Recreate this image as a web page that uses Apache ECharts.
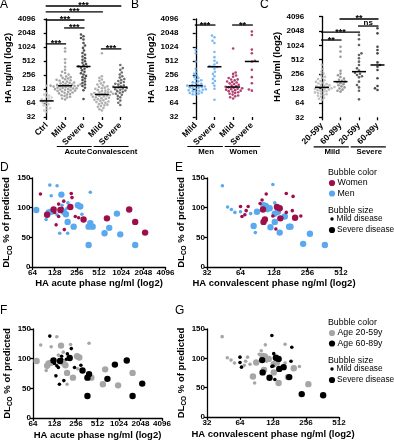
<!DOCTYPE html>
<html>
<head>
<meta charset="utf-8">
<script src="https://cdn.jsdelivr.net/npm/echarts@6/dist/echarts.min.js"></script>
<style>
html, body { margin: 0; padding: 0; background: #fff; }
#main { width: 394px; height: 440px; }
</style>
</head>
<body>
<div id="main"></div>
<script>
var FONT = 'Liberation Sans, Arial, Helvetica, sans-serif';

// ---- panel A: HA by group (ng/ml) ----
var catsA = ['Ctrl', 'Mild', 'Severe', 'Mild', 'Severe'];
var ctrlA = [150, 104, 97, 92, 87, 84, 80, 77, 74, 72, 70, 66, 63, 60, 57, 54, 50, 47, 44, 41];
var acuteMildA = [960, 820, 560, 470, 385, 330, 300, 282, 262, 250, 238, 230, 222, 215, 208, 202, 197, 192, 186, 181,
    177, 172, 168, 165, 162, 159, 157, 155, 153, 151, 150, 148, 146, 144, 142, 140, 137, 135, 133, 131,
    129, 127, 125, 123, 120, 118, 116, 113, 111, 108, 106, 103, 100, 97, 94, 91, 87, 84, 80, 76];
var acuteSevereA = [1900, 1750, 1600, 1480, 1250, 1100, 980, 860, 760, 700, 640, 590, 545, 505, 470, 440, 412, 395,
    385, 368, 350, 322, 300, 280, 262, 245, 230, 215, 200, 186, 172, 160, 148, 136, 120, 78];
var convMildA = [750, 240, 222, 205, 190, 178, 168, 160, 152, 146, 141, 137, 133, 129, 125, 121, 118, 115, 112, 109,
    107, 105, 103, 101, 99, 98, 97, 95, 93, 91, 89, 87, 85, 83, 81, 79, 77, 75, 73, 71, 69, 67, 65, 63, 61, 59,
    57, 55, 53, 50, 47, 44];
var convSevereA = [420, 360, 330, 290, 262, 240, 225, 210, 200, 190, 181, 173, 166, 159, 153, 147, 142, 138, 135,
    131, 127, 123, 119, 115, 111, 106, 101, 96, 91, 85, 79, 72, 65, 58];
var groupsA = [['Acute', 1, 2], ['Convalescent', 3, 4]];
var sigA = [[0, 4, 7800, '***'], [0, 3, 5800, '***'], [0, 2, 3900, '***'], [1, 2, 2630, '***'], [0, 1, 1195, '***'], [3, 4, 932, '***']];

// ---- panel B: acute HA by sex ----
var catsB = ['Mild', 'Severe', 'Mild', 'Severe'];
var menMildB = [880, 750, 500, 350, 300, 272, 252, 236, 222, 208, 197, 187, 179, 172, 166, 161, 157, 154, 151, 148,
    145, 142, 139, 136, 133, 129, 126, 123, 120, 117, 114, 111, 108, 105, 102, 99, 96];
var menSevereB = [1800, 1650, 1400, 1250, 800, 620, 520, 470, 430, 400, 390, 380, 350, 300, 270, 240, 210, 190, 170, 150, 130, 75];
var womenMildB = [950, 290, 270, 250, 235, 220, 206, 205, 196, 186, 180, 177, 169, 163, 157, 151, 147, 143, 139, 136,
    133, 130, 127, 124, 121, 118, 115, 112, 109, 105, 101, 97, 93, 89, 85, 80];
var womenSevereB = [2200, 1850, 900, 750, 520, 500, 330, 230, 170, 125, 118];
var groupsB = [['Men', 0, 1], ['Women', 2, 3]];
var sigB = [[0, 1, 3040, '***'], [2, 3, 3040, '**']];

// ---- panel C: acute HA by age ----
var catsC = ['20-59y', '60-89y', '20-59y', '60-89y'];
var youngMildC = [400, 330, 290, 262, 242, 226, 213, 201, 191, 183, 176, 169, 163, 158, 153, 149, 146, 143, 141, 138,
    136, 134, 132, 130, 128, 126, 124, 121, 118, 115, 112, 109, 106, 103, 100, 97, 94, 90, 86, 82, 78, 74];
var oldMildC = [950, 760, 590, 300, 262, 242, 222, 206, 195, 186, 178, 172, 165, 158, 150, 142, 135, 128, 121, 115, 110];
var youngSevereC = [1690, 1370, 1040, 695, 643, 548, 466, 397, 338, 302, 274, 260, 245, 230, 219, 178, 151, 135, 115, 76];
var oldSevereC = [2320, 1820, 955, 815, 695, 450, 397, 365, 311, 209, 144, 129, 119];
var groupsC = [['Mild', 0, 1], ['Severe', 2, 3]];
var sigC = [[1, 3, 3630, '**'], [2, 3, 2590, 'ns'], [0, 2, 1940, '***'], [0, 1, 1320, '**']];

// ---- bubbles: [HA ng/ml, DLCO %, sex W/M, age Y(20-59)/O(60-89), severe 0/1] ----
var acuteRows = [
    [110, 138, 'M', 'O', 0], [138, 137, 'M', 'Y', 0], [82, 123, 'W', 'Y', 0], [115, 120, 'M', 'Y', 0],
    [158, 122, 'M', 'Y', 1], [215, 124, 'W', 'Y', 0], [220, 117, 'W', 'O', 0], [390, 126, 'M', 'Y', 0],
    [170, 111, 'W', 'Y', 0], [145, 106, 'W', 'Y', 0], [161, 104, 'M', 'O', 0], [194, 108, 'M', 'O', 0],
    [72, 96, 'M', 'Y', 1], [98, 80, 'M', 'Y', 0], [101, 88, 'W', 'Y', 1], [106, 92, 'M', 'Y', 1],
    [115, 93, 'M', 'Y', 1], [124, 97, 'W', 'O', 1], [128, 92, 'W', 'O', 0], [138, 88, 'M', 'O', 0],
    [145, 85, 'W', 'O', 0], [153, 96, 'W', 'O', 1], [161, 99, 'W', 'O', 0], [170, 93, 'M', 'Y', 1],
    [182, 89, 'M', 'Y', 1], [188, 99, 'M', 'O', 0], [209, 101, 'W', 'O', 1], [265, 104, 'M', 'Y', 1],
    [285, 102, 'M', 'Y', 1], [300, 89, 'M', 'O', 0], [271, 83, 'W', 'Y', 0], [316, 80, 'W', 'O', 1],
    [244, 85, 'W', 'O', 0], [192, 76, 'M', 'Y', 1], [134, 71, 'W', 'O', 0], [173, 63, 'W', 'O', 0],
    [150, 57, 'M', 'O', 0], [192, 57, 'M', 'Y', 0], [232, 68, 'M', 'Y', 1], [370, 68, 'M', 'O', 1],
    [390, 74, 'M', 'O', 1], [420, 68, 'M', 'Y', 1], [656, 82, 'W', 'Y', 1], [897, 90, 'M', 'O', 1],
    [1316, 97, 'W', 'O', 1], [1587, 76, 'W', 'Y', 1], [705, 66, 'M', 'O', 1], [609, 57, 'M', 'Y', 1],
    [995, 55, 'M', 'Y', 1], [2165, 58, 'W', 'O', 1], [370, 37, 'M', 'O', 1], [1587, 37, 'M', 'O', 1]
];
var convRows = [
    [44, 137, 'M', 'Y', 0], [125, 139, 'M', 'O', 0], [109, 123, 'W', 'Y', 0], [165, 124, 'W', 'Y', 0],
    [190, 119, 'W', 'O', 0], [49, 101, 'M', 'Y', 0], [53, 97, 'M', 'Y', 0], [57, 92, 'M', 'Y', 0],
    [64, 93, 'M', 'O', 0], [64, 102, 'W', 'O', 0], [75, 102, 'W', 'Y', 0], [72, 95, 'W', 'Y', 0],
    [66, 85, 'W', 'O', 0], [70, 88, 'W', 'Y', 0], [79, 90, 'M', 'Y', 0], [90, 93, 'M', 'Y', 1],
    [96, 107, 'W', 'Y', 0], [100, 113, 'W', 'Y', 0], [102, 97, 'W', 'O', 1], [103, 104, 'M', 'Y', 1],
    [108, 103, 'M', 'Y', 1], [117, 99, 'M', 'Y', 1], [103, 76, 'W', 'O', 1], [106, 80, 'W', 'Y', 1],
    [130, 108, 'M', 'O', 0], [136, 101, 'W', 'O', 1], [144, 99, 'W', 'O', 1], [139, 93, 'M', 'Y', 1],
    [130, 90, 'M', 'Y', 1], [146, 82, 'W', 'O', 1], [125, 86, 'W', 'O', 0], [160, 85, 'M', 'O', 1],
    [165, 92, 'W', 'Y', 0], [187, 95, 'W', 'O', 0], [198, 83, 'W', 'Y', 1], [223, 86, 'W', 'Y', 0],
    [175, 68, 'M', 'Y', 1], [180, 68, 'M', 'O', 1], [130, 76, 'M', 'Y', 1], [119, 67, 'M', 'O', 1],
    [84, 69, 'M', 'Y', 1], [87, 58, 'M', 'Y', 0], [144, 58, 'M', 'Y', 1], [269, 56, 'M', 'Y', 1],
    [234, 39, 'M', 'O', 1], [367, 37, 'M', 'O', 1], [112, 95, 'M', 'Y', 0], [128, 87, 'M', 'O', 0],
    [133, 64, 'W', 'O', 0]
];

var BLUE = '#5aa9f0', RED = '#9e0e4b', GREY = '#a6a6a6', BLACK = '#000000';

// ---------- helpers ----------
function median(a) {
    var s = a.slice().sort(function (x, y) { return x - y; }), n = s.length;
    return n % 2 ? s[(n - 1) / 2] : (s[n / 2 - 1] + s[n / 2]) / 2;
}

// simple beeswarm: spread equal-ish values sideways so dots do not overlap
function swarm(vals, idx, pxLog, pxCat, d) {
    var sorted = vals.slice().sort(function (a, b) { return a - b; });
    var placed = [], out = [];
    sorted.forEach(function (v, n) {
        var y = Math.log2(v) * pxLog, x = 0;
        for (var k = 0; k < 80; k++) {
            var s = (n % 2 ? -1 : 1);
            var cand = k === 0 ? [0] : [s * k * 0.5, -s * k * 0.5];
            var hit = null;
            for (var c = 0; c < cand.length; c++) {
                var ok = placed.every(function (p) {
                    var dx = p[0] - cand[c], dy = p[1] - y;
                    return dx * dx + dy * dy >= d * d;
                });
                if (ok) { hit = cand[c]; break; }
            }
            if (hit !== null) { x = hit; break; }
        }
        placed.push([x, y]);
        out.push([idx + x / pxCat, v]);
    });
    return out;
}

function plainNum(v) { return String(Math.round(v)); }
function lineStyle() { return { color: '#000', width: 1.3 }; }
function labelStyle(size) {
    return { color: '#000', fontWeight: 'bold', fontSize: size || 8, fontFamily: FONT, margin: 2, formatter: plainNum };
}
function nameStyle() {
    return { color: '#000', fontWeight: 'bold', fontSize: 9.5, fontFamily: FONT };
}

function logY(gi, offset, gap) {
    return {
        gridIndex: gi, type: 'log', logBase: 2, min: 32, max: 4096, offset: offset,
        axisLine: { show: true, lineStyle: lineStyle() },
        axisTick: { show: true, length: 3, lineStyle: lineStyle() },
        axisLabel: labelStyle(8), splitLine: { show: false },
        name: 'HA ng/ml (log2)', nameLocation: 'middle', nameGap: gap, nameTextStyle: nameStyle()
    };
}
function catX(gi, cats) {
    var lab = labelStyle(8.5);
    delete lab.formatter;
    lab.rotate = 45; lab.interval = 0; lab.margin = 7;
    return {
        gridIndex: gi, type: 'category', data: cats,
        axisLine: { show: false },
        axisTick: { show: true, alignWithLabel: true, length: 3, lineStyle: lineStyle() },
        axisLabel: lab, splitLine: { show: false }
    };
}
function valX(gi, n) {
    return { gridIndex: gi, type: 'value', min: -0.5, max: n - 0.5, show: false };
}
function logX(gi, min, max, name, gap) {
    return {
        gridIndex: gi, type: 'log', logBase: 2, min: min, max: max,
        axisLine: { show: true, lineStyle: lineStyle() },
        axisTick: { show: true, length: 3, lineStyle: lineStyle() },
        axisLabel: labelStyle(8), splitLine: { show: false },
        name: name, nameLocation: 'middle', nameGap: gap, nameTextStyle: nameStyle()
    };
}
function dlcoY(gi) {
    var ns = nameStyle();
    ns.lineHeight = 13;
    ns.rich = { s: { color: '#000', fontWeight: 'bold', fontSize: 6.5, fontFamily: FONT, lineHeight: 7, verticalAlign: 'bottom' } };
    return {
        gridIndex: gi, type: 'value', min: 0, max: 150, interval: 50,
        axisLine: { show: true, lineStyle: lineStyle() },
        axisTick: { show: true, length: 3, lineStyle: lineStyle() },
        axisLabel: labelStyle(8), splitLine: { show: false },
        name: 'DL{s|CO} % of predicted', nameLocation: 'middle', nameGap: 15, nameTextStyle: ns
    };
}

function dotSeries(xi, yi, groups, colors, pxLog, pxCat) {
    var list = groups.map(function (vals, i) {
        return {
            type: 'scatter', xAxisIndex: xi, yAxisIndex: yi, symbolSize: 2.6, silent: true,
            itemStyle: { color: colors[i] }, data: swarm(vals, i, pxLog, pxCat, 2.8)
        };
    });
    list.push({
        type: 'custom', xAxisIndex: xi, yAxisIndex: yi, z: 5, silent: true,
        data: groups.map(function (v, i) { return [i, median(v)]; }),
        renderItem: function (params, api) {
            var p = api.coord([api.value(0), api.value(1)]);
            return { type: 'line', shape: { x1: p[0] - 7, y1: p[1], x2: p[0] + 7, y2: p[1] },
                style: { stroke: '#000', lineWidth: 1.5 } };
        }
    });
    return list;
}

function sigSeries(xi, yi, sig) {
    return {
        type: 'custom', xAxisIndex: xi, yAxisIndex: yi, silent: true, encode: { x: [0, 1], y: 2 },
        data: sig.map(function (s) { return [s[0], s[1], s[2]]; }),
        renderItem: function (params, api) {
            var s = sig[params.dataIndex];
            var a = api.coord([s[0], s[2]]), b = api.coord([s[1], s[2]]);
            var star = s[3].indexOf('*') >= 0;
            return { type: 'group', children: [
                { type: 'line', shape: { x1: a[0] - 1, y1: a[1], x2: b[0] + 1, y2: b[1] },
                    style: { stroke: '#000', lineWidth: 1.3 } },
                { type: 'text', style: { text: s[3], x: (a[0] + b[0]) / 2, y: a[1] + (star ? 4.5 : 0.5),
                    align: 'center', verticalAlign: 'bottom', fontSize: star ? 9 : 8, fontWeight: 'bold',
                    fontFamily: FONT, fill: '#000' } }
            ] };
        }
    };
}

function groupSeries(xi, yi, groups) {
    return {
        type: 'custom', xAxisIndex: xi, yAxisIndex: yi, silent: true, encode: { x: [0, 1], y: 2 },
        data: groups.map(function (g) { return [g[1], g[2], 64]; }),
        renderItem: function (params, api) {
            var g = groups[params.dataIndex];
            var cs = params.coordSys;
            var a = api.coord([g[1] - 0.45, 64])[0], b = api.coord([g[2] + 0.45, 64])[0];
            var y = cs.y + cs.height + 29.5;
            return { type: 'group', children: [
                { type: 'line', shape: { x1: a, y1: y, x2: b, y2: y }, style: { stroke: '#000', lineWidth: 1.2 } },
                { type: 'text', style: { text: g[0], x: (a + b) / 2 + 1, y: y + 1.5, align: 'center', verticalAlign: 'top',
                    fontSize: 7.8, fontWeight: 'bold', fontFamily: FONT, fill: '#000' } }
            ] };
        }
    };
}

function bubbles(rows, xi, yi, key, value, color) {
    return {
        type: 'scatter', xAxisIndex: xi, yAxisIndex: yi, silent: true,
        data: rows.filter(function (r) { return r[key] === value; }).map(function (r) { return [r[0], r[1], r[4]]; }),
        symbolSize: function (v) { return v[2] ? 6.4 : 3.6; },
        itemStyle: { color: color, opacity: 1 }
    };
}

function txt(x, y, s, size, weight, align) {
    return { type: 'text', silent: true, style: { text: s, x: x, y: y, align: align || 'left', verticalAlign: 'middle',
        fontSize: size, fontWeight: weight || 'normal', fontFamily: FONT, fill: '#000' } };
}
function dot(x, y, r, color) {
    return { type: 'circle', silent: true, shape: { cx: x, cy: y, r: r }, style: { fill: color } };
}
function bubbleLegend(x, y, items) {
    var els = [txt(x, y, 'Bubble color', 8.8)];
    items.forEach(function (it, i) {
        els.push(dot(x + 4, y + 10 + i * 10.5, 3.1, it[1]));
        els.push(txt(x + 9.5, y + 10 + i * 10.5, it[0], 8.8));
    });
    els.push(txt(x, y + 38, 'Bubble size', 8.8));
    els.push(dot(x + 4, y + 46, 1.7, '#000'));
    els.push(txt(x + 8.5, y + 46, 'Mild disease', 8.3));
    els.push(dot(x + 4, y + 57, 3.1, '#000'));
    els.push(txt(x + 9, y + 57, 'Severe disease', 8.3));
    return els;
}

var chart = echarts.init(document.getElementById('main'));

var series = [];
series = series.concat(dotSeries(1, 0, [ctrlA, acuteMildA, acuteSevereA, convMildA, convSevereA],
    ['#c4c4c4', '#8f8f8f', '#262626', '#9a9a9a', '#4a4a4a'], 14.05, 18.4));
series.push(sigSeries(1, 0, sigA), groupSeries(1, 0, groupsA));
series = series.concat(dotSeries(3, 1, [menMildB, menSevereB, womenMildB, womenSevereB],
    [BLUE, BLUE, RED, RED], 14.05, 18.7));
series.push(sigSeries(3, 1, sigB), groupSeries(3, 1, groupsB));
series = series.concat(dotSeries(5, 2, [youngMildC, oldMildC, youngSevereC, oldSevereC],
    ['#b0b0b0', '#808080', '#3a3a3a', '#1a1a1a'], 14.4, 18.5));
series.push(sigSeries(5, 2, sigC), groupSeries(5, 2, groupsC));
// D / E by sex, F / G by age
series.push(bubbles(acuteRows, 6, 3, 2, 'M', BLUE), bubbles(acuteRows, 6, 3, 2, 'W', RED));
series.push(bubbles(convRows, 7, 4, 2, 'M', BLUE), bubbles(convRows, 7, 4, 2, 'W', RED));
series.push(bubbles(acuteRows, 8, 5, 3, 'Y', GREY), bubbles(acuteRows, 8, 5, 3, 'O', BLACK));
series.push(bubbles(convRows, 9, 6, 3, 'Y', GREY), bubbles(convRows, 9, 6, 3, 'O', BLACK));

var option = {
    animation: false,
    textStyle: { fontFamily: FONT },
    grid: [
        { left: 37.5, top: 19, width: 92, height: 98 },
        { left: 186.4, top: 19, width: 74.8, height: 98 },
        { left: 312.75, top: 16.5, width: 74, height: 100.8 },
        { left: 32.5, top: 178, width: 133, height: 89 },
        { left: 207, top: 178, width: 134, height: 89 },
        { left: 33, top: 329, width: 129, height: 89 },
        { left: 207, top: 329, width: 132, height: 88 }
    ].map(function (g) { g.outerBoundsMode = 'none'; g.containLabel = false; return g; }),
    xAxis: [
        catX(0, catsA), valX(0, 5),
        catX(1, catsB), valX(1, 4),
        catX(2, catsC), valX(2, 4),
        logX(3, 64, 4096, 'HA acute phase ng/ml (log2)', 11),
        logX(4, 32, 512, 'HA convalescent phase ng/ml (log2)', 11),
        logX(5, 64, 4096, 'HA acute phase ng/ml (log2)', 12),
        logX(6, 32, 512, 'HA convalescent phase ng/ml (log2)', 12)
    ],
    yAxis: [
        logY(0, 0, 23), logY(1, 6, 22), logY(2, 6.5, 22),
        dlcoY(3), dlcoY(4), dlcoY(5), dlcoY(6)
    ],
    series: series,
    graphic: [
        txt(0, 5, 'A', 12), txt(131, 5, 'B', 12), txt(260, 5, 'C', 12),
        txt(0, 168, 'D', 12), txt(175, 168, 'E', 12),
        txt(0, 310.5, 'F', 12), txt(175, 310.5, 'G', 12)
    ].concat(bubbleLegend(328, 173, [['Women', RED], ['Men', BLUE]]))
     .concat(bubbleLegend(328, 323, [['Age 20-59y', GREY], ['Age 60-89y', BLACK]]))
};

chart.setOption(option);
</script>
</body>
</html>
